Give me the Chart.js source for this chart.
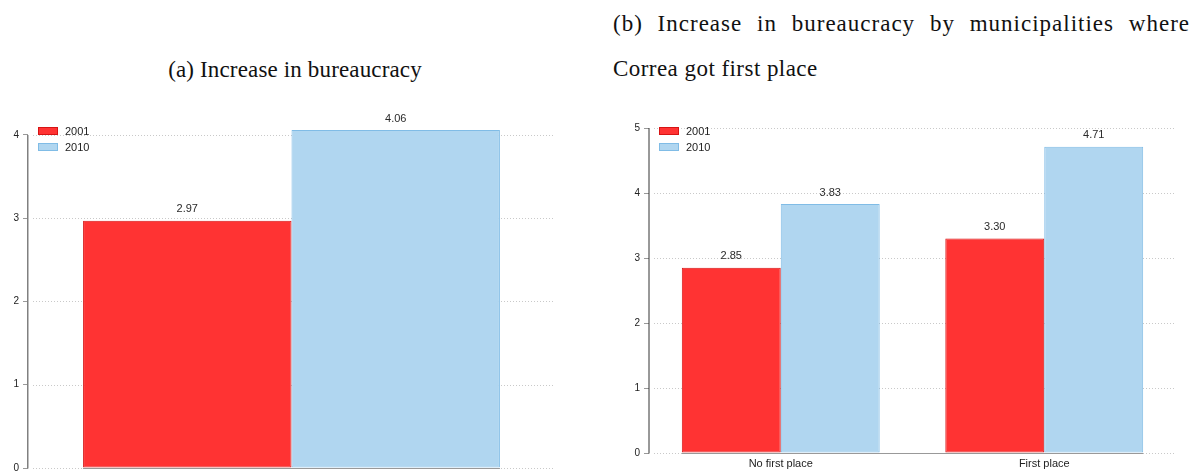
<!DOCTYPE html>
<html>
<head>
<meta charset="utf-8">
<script src="https://cdn.jsdelivr.net/npm/chart.js@4.4.1/dist/chart.umd.min.js"></script>
<style>
  html, body { margin: 0; padding: 0; background: #fff; }
  body { width: 1200px; height: 473px; position: relative; overflow: hidden; }
  .title { position: absolute; font-family: "Liberation Serif", serif; font-size: 23px; color: #111; letter-spacing: 0.15px; }
  #titleA { left: 0; width: 590px; top: 57px; line-height: 1.15; text-align: center; }
  #titleB { left: 613px; width: 577px; top: 1px; line-height: 45px; text-align: justify; }
  #titleB .l1 { text-align: justify; text-align-last: justify; letter-spacing: 1px; }
  #titleB .l2 { letter-spacing: 0.45px; }
  canvas { position: absolute; }
  #chartA { left: 0; top: 100px; }
  #chartB { left: 621px; top: 100px; }
</style>
</head>
<body>
<div class="title" id="titleA">(a) Increase in bureaucracy</div>
<div class="title" id="titleB"><div class="l1">(b) Increase in bureaucracy by municipalities where</div><div class="l2">Correa got first place</div></div>
<canvas id="chartA" width="555" height="378"></canvas>
<canvas id="chartB" width="555" height="373"></canvas>
<script>
// Series labels
const seriesLabels = ['2001', '2010'];

// Panel (a): overall increase
const overallCategories = ['All municipalities'];
const overall2001 = [2.97];
const overall2010 = [4.06];
const overallTicks = [0, 1, 2, 3, 4];

// Panel (b): split by whether Correa came first
const placeCategories = ['No first place', 'First place'];
const place2001 = [2.85, 3.30];
const place2010 = [3.83, 4.71];
const placeTicks = [0, 1, 2, 3, 4, 5];

const RED = 'rgb(255,51,51)', RED_EDGE = 'rgb(214,20,20)';
const BLUE = 'rgb(176,214,240)', BLUE_EDGE = 'rgb(128,188,230)';
const SANS = '"Liberation Sans", Arial, sans-serif';

// Dotted grid, axis lines, inside legend and value labels
const decor = {
  id: 'decor',
  beforeDatasetsDraw(chart, args, opts) {
    const { ctx, chartArea, scales: { x, y } } = chart;
    ctx.save();
    ctx.lineWidth = 1;
    ctx.strokeStyle = '#c9c9c9';
    ctx.setLineDash([1, 2]);
    y.ticks.forEach(t => {
      const py = Math.round(y.getPixelForValue(t.value)) + 0.5;
      ctx.beginPath();
      ctx.moveTo(chartArea.left + 5, py);
      ctx.lineTo(chartArea.right, py);
      ctx.stroke();
    });
    ctx.setLineDash([]);
    // category axis line spanning the bars
    const metas = chart.data.datasets.map((d, i) => chart.getDatasetMeta(i));
    let lo = Infinity, hi = -Infinity;
    metas.forEach(m => m.data.forEach(b => {
      lo = Math.min(lo, b.x - b.width / 2);
      hi = Math.max(hi, b.x + b.width / 2);
    }));
    const py0 = Math.round(y.getPixelForValue(0)) + 0.5;
    ctx.strokeStyle = '#999';
    ctx.beginPath();
    ctx.moveTo(lo, py0);
    ctx.lineTo(hi, py0);
    ctx.stroke();
    ctx.restore();
  },
  afterDatasetsDraw(chart, args, opts) {
    const { ctx, chartArea, scales: { y } } = chart;
    ctx.save();
    // value axis line from first to last tick
    const vals = y.ticks.map(t => t.value);
    ctx.strokeStyle = opts.axisColor;
    ctx.lineWidth = opts.axisWidth;
    const ax = chartArea.left - opts.axisWidth / 2 + 0.5;
    ctx.beginPath();
    ctx.moveTo(ax, y.getPixelForValue(Math.min(...vals)) + 0.5);
    ctx.lineTo(ax, y.getPixelForValue(Math.max(...vals)));
    ctx.stroke();
    // value labels above bars
    ctx.fillStyle = '#2a2a2a';
    ctx.font = '11px ' + SANS;
    ctx.textAlign = 'center';
    ctx.textBaseline = 'bottom';
    chart.data.datasets.forEach((d, i) => {
      chart.getDatasetMeta(i).data.forEach((b, j) => {
        ctx.fillText(d.data[j].toFixed(2), b.x, b.y - 6);
      });
    });
    // legend in the top-left corner of the plot
    ctx.textAlign = 'left';
    ctx.textBaseline = 'middle';
    chart.data.datasets.forEach((d, i) => {
      const top = opts.legendTop + i * 16;
      const left = chartArea.left + 10;
      ctx.fillStyle = d.backgroundColor;
      ctx.fillRect(left, top, 20, 8);
      ctx.strokeStyle = d.borderColor;
      ctx.lineWidth = 1;
      ctx.strokeRect(left + 0.5, top + 0.5, 19, 7);
      ctx.fillStyle = '#222';
      ctx.fillText(d.label, left + 27, top + 4.5);
    });
    ctx.restore();
  }
};

function makeChart(id, labels, s2001, s2010, ticks, yMax, opts) {
  return new Chart(document.getElementById(id), {
    type: 'bar',
    data: {
      labels: labels,
      datasets: [
        { label: seriesLabels[0], data: s2001, backgroundColor: RED, borderColor: RED_EDGE, borderWidth: 1, borderSkipped: false },
        { label: seriesLabels[1], data: s2010, backgroundColor: BLUE, borderColor: BLUE_EDGE, borderWidth: 1, borderSkipped: false }
      ]
    },
    options: {
      responsive: false,
      animation: false,
      devicePixelRatio: 1,
      layout: { padding: opts.padding },
      datasets: { bar: { categoryPercentage: opts.catPct, barPercentage: 1.0 } },
      plugins: {
        legend: { display: false },
        tooltip: { enabled: false },
        decor: { legendTop: 27, axisColor: opts.axisColor, axisWidth: opts.axisWidth }
      },
      scales: {
        x: {
          display: opts.showX,
          grid: { display: false, drawTicks: false },
          border: { display: false },
          ticks: { color: '#222', font: { family: SANS, size: 11 }, padding: 4 },
          afterFit(s) { s.height = opts.showX ? 20 : 0; }
        },
        y: {
          min: 0,
          max: yMax,
          afterBuildTicks(s) { s.ticks = ticks.map(v => ({ value: v })); },
          afterFit(s) { s.width = 28; },
          grid: { drawOnChartArea: false, tickLength: 5, tickColor: '#999', lineWidth: 1 },
          border: { display: false },
          ticks: { color: '#222', font: { family: SANS, size: 10 }, padding: 4 }
        }
      }
    },
    plugins: [decor]
  });
}

makeChart('chartA', overallCategories, overall2001, overall2010, overallTicks, 4.3,
  { padding: { top: 8, bottom: 6, left: 0, right: 0 }, catPct: 0.791, showX: false, axisColor: '#808080', axisWidth: 1.5 });
makeChart('chartB', placeCategories, place2001, place2010, placeTicks, 5.2,
  { padding: { top: 15, bottom: 0, left: 0, right: 0 }, catPct: 0.751, showX: true, axisColor: '#333', axisWidth: 1 });
</script>
</body>
</html>
